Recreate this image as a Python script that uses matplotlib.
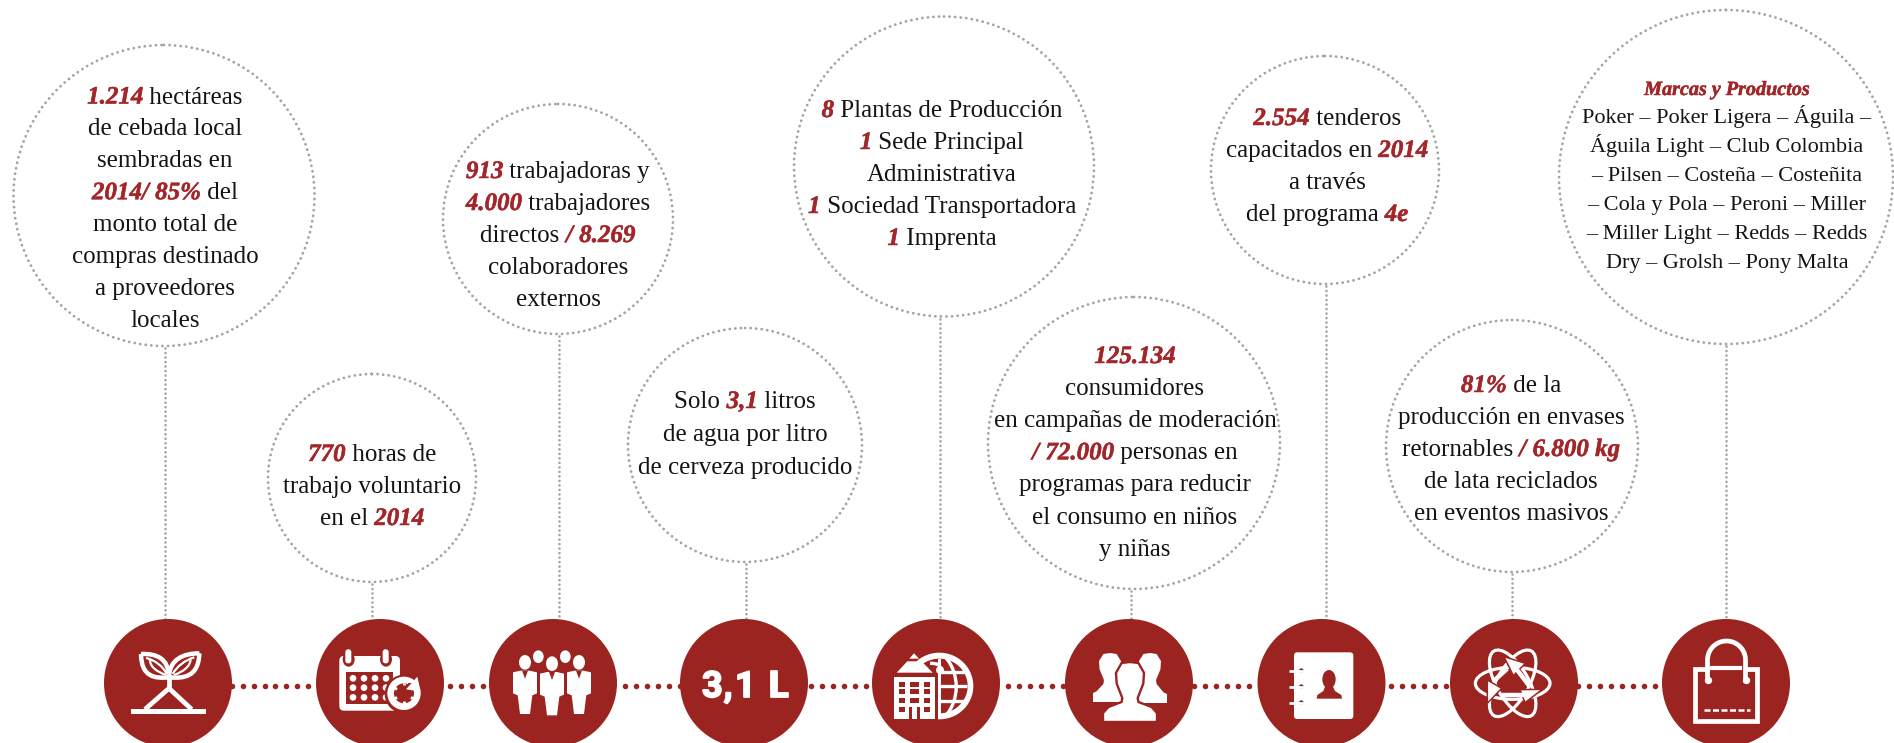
import numpy as np
import matplotlib
matplotlib.use("Agg")
import matplotlib.pyplot as plt
import matplotlib.patheffects as pe
from matplotlib.patches import Circle, Ellipse, Polygon, Rectangle, FancyBboxPatch, PathPatch
from matplotlib.path import Path
from matplotlib.transforms import Affine2D

RED = "#9b2420"
TXTRED = "#a3262a"
INK = "#141414"
GREY = "#a3a3a3"
W = "white"
SERIF = "Liberation Serif"

# ---- content ----
bubble_x = [164, 372, 558, 745, 944, 1134, 1325, 1512, 1726]
bubble_y = [195.5, 478, 219, 445, 166.5, 443, 170, 446, 177]
bubble_r = [150.5, 104, 115, 117, 150, 146, 114, 126, 167]
stem_x = [165, 372, 559, 745.5, 940, 1131, 1326, 1512, 1726]
node_x = [168, 380, 553, 744, 936, 1129, 1321.5, 1514, 1726]
text_x = [165, 372, 558, 745, 942, 1135, 1327, 1511, 1727]
first_baseline = [103.5, 461, 178, 408, 117, 363, 125, 392, 123.5]
line_gap = [31.9, 32, 32, 33, 32, 32.1, 32, 32, 28.9]

R = "r"
N = "n"
texts = [
    [[("1.214", R), (" hectáreas", N)], [("de cebada local", N)], [("sembradas en", N)],
     [("2014/ 85%", R), (" del", N)], [("monto total de", N)], [("compras destinado", N)],
     [("a proveedores", N)], [("locales", N)]],
    [[("770", R), (" horas de", N)], [("trabajo voluntario", N)], [("en el ", N), ("2014", R)]],
    [[("913", R), (" trabajadoras y", N)], [("4.000", R), (" trabajadores", N)],
     [("directos ", N), ("/ 8.269", R)], [("colaboradores", N)], [("externos", N)]],
    [[("Solo ", N), ("3,1", R), (" litros", N)], [("de agua por litro", N)], [("de cerveza producido", N)]],
    [[("8", R), (" Plantas de Producción", N)], [("1", R), (" Sede Principal", N)],
     [("Administrativa", N)], [("1", R), (" Sociedad Transportadora", N)], [("1", R), (" Imprenta", N)]],
    [[("125.134", R)], [("consumidores", N)], [("en campañas de moderación", N)],
     [("/ 72.000", R), (" personas en", N)], [("programas para reducir", N)],
     [("el consumo en niños", N)], [("y niñas", N)]],
    [[("2.554", R), (" tenderos", N)], [("capacitados en ", N), ("2014", R)], [("a través", N)],
     [("del programa ", N), ("4e", R)]],
    [[("81%", R), (" de la", N)], [("producción en envases", N)], [("retornables ", N), ("/ 6.800 kg", R)],
     [("de lata reciclados", N)], [("en eventos masivos", N)]],
    [[("Poker – Poker Ligera – Águila –", N)], [("Águila Light – Club Colombia", N)],
     [("– Pilsen – Costeña – Costeñita", N)], [("– Cola y Pola – Peroni – Miller", N)],
     [("– Miller Light – Redds – Redds", N)], [("Dry – Grolsh – Pony Malta", N)]],
]
brand_title = "Marcas y Productos"
dot_runs = [(232, 308), (450, 483), (625, 680), (811, 866), (1008, 1063), (1194, 1249), (1391, 1446), (1578, 1655)]

# ---- canvas: one data unit is one pixel ----
fig = plt.figure(figsize=(18.94, 7.43), dpi=100, facecolor="white")
ax = fig.add_axes([0, 0, 1, 1])
ax.set_xlim(0, 1894)
ax.set_ylim(743, 0)
ax.axis("off")
renderer = fig.canvas.get_renderer()


def style(kind, size):
    if kind == R:
        return dict(family=SERIF, fontsize=size, color=TXTRED, fontweight="bold", fontstyle="italic")
    return dict(family=SERIF, fontsize=size, color=INK)


def adv(s, kind, size):
    """Advance width, spaces included."""
    a = ax.text(0, 0, s + "|", **style(kind, size))
    b = ax.text(0, 0, "|", **style(kind, size))
    w = a.get_window_extent(renderer).width - b.get_window_extent(renderer).width
    a.remove()
    b.remove()
    return w


def draw_line(cx, y, runs, size):
    widths = [adv(s, k, size) for s, k in runs]
    x = cx - sum(widths) / 2
    for (s, k), w in zip(runs, widths):
        tx = ax.text(x, y, s, ha="left", va="baseline", **style(k, size))
        if k == R:
            tx.set_path_effects([pe.withStroke(linewidth=0.35, foreground=TXTRED)])
        x += w


# ---- bubbles, stems, nodes, connecting dots ----
for bx, by, br, sx in zip(bubble_x, bubble_y, bubble_r, stem_x):
    ax.add_patch(Circle((bx, by), br, fc="none", ec=GREY, lw=2.05,
                        linestyle=(0, (0.01, 1.95)), capstyle="round", zorder=1))
    ax.plot([sx, sx], [by + br + 2, 620], color=GREY, lw=1.9,
            linestyle=(0, (0.01, 1.7)), dash_capstyle="round", zorder=1)

for a, b in dot_runs:
    xs = np.linspace(a, b, int(round((b - a) / 11)) + 1)
    ax.scatter(xs, np.full_like(xs, 686.0), s=16, color=RED, linewidths=0, zorder=2)

for nx in node_x:
    ax.add_patch(Circle((nx, 683), 64, fc=RED, ec="none", zorder=3))


# ---- icon helpers: coordinates in 3x zoom units from an origin ----
def T(ox, oy=620):
    return Affine2D().scale(1 / 3).translate(ox, oy) + ax.transData


def poly(t, pts, fc=W, z=4, ec="none", lw=0):
    ax.add_patch(Polygon(pts, closed=True, fc=fc, ec=ec, lw=lw, transform=t, zorder=z))


def rect(t, x0, y0, x1, y1, fc=W, z=4):
    ax.add_patch(Rectangle((x0, y0), x1 - x0, y1 - y0, fc=fc, ec="none", transform=t, zorder=z))


def ell(t, x, y, rx, ry, fc=W, z=4, ang=0, ec="none", lw=0):
    ax.add_patch(Ellipse((x, y), 2 * rx, 2 * ry, angle=ang, fc=fc, ec=ec, lw=lw, transform=t, zorder=z))


def line(t, xs, ys, lw=2.6, c=W, z=4, cap="butt"):
    ax.plot(xs, ys, color=c, lw=lw, transform=t, zorder=z, solid_capstyle=cap)


def bez(t, verts, fc="none", ec=W, lw=2.6, z=4):
    codes = [Path.MOVETO] + [Path.CURVE4] * (len(verts) - 1)
    ax.add_patch(PathPatch(Path(verts, codes), fc=fc, ec=ec, lw=lw, transform=t, zorder=z))


def rrect(t, x0, y0, x1, y1, rad, fc=W, z=4):
    ax.add_patch(FancyBboxPatch((x0 + rad, y0 + rad), x1 - x0 - 2 * rad, y1 - y0 - 2 * rad,
                                boxstyle=f"round,pad={rad}", fc=fc, ec="none", transform=t, zorder=z))


# 1 plant
t = T(100)
rect(t, 93, 267, 318, 283)
line(t, [207, 135], [205, 268], lw=3.4)
line(t, [207, 275], [205, 268], lw=3.4)
line(t, [207, 207], [172, 208], lw=3.4)
bez(t, [(123, 102), (170, 100), (206, 115), (207, 172), (165, 176), (124, 172), (123, 102)], lw=3.2)
bez(t, [(298, 100), (250, 100), (208, 118), (207, 172), (250, 176), (296, 172), (298, 100)], lw=3.2)
bez(t, [(138, 114), (165, 120), (190, 140), (200, 162)], lw=1.6)
bez(t, [(150, 120), (150, 140), (170, 155), (198, 165)], lw=1.6)
bez(t, [(283, 112), (255, 120), (230, 140), (218, 162)], lw=1.6)
bez(t, [(272, 118), (270, 140), (250, 155), (222, 165)], lw=1.6)

# 2 calendar
t = T(100)
rrect(t, 718, 108, 900, 272, 14)
rect(t, 738, 155, 880, 252, fc=RED)
for cx_ in (745, 857):
    ell(t, cx_ + 1, 118, 18, 22, fc=RED)
    rrect(t, cx_ - 9, 88, cx_ + 9, 130, 8)
for yy in (175, 203, 232):
    for xx in (759, 792, 825, 858):
        ell(t, xx, yy, 10, 10)
ell(t, 912, 222, 58, 58, fc=RED)
ell(t, 912, 220, 50, 50)
ell(t, 912, 220, 30, 30, fc=RED)
rect(t, 925, 190, 975, 208, fc=RED)
poly(t, [(952, 170), (962, 214), (918, 208)])
for a_ in np.deg2rad([30, 90, 150, 210, 270, 330]):
    line(t, [912 + 24 * np.cos(a_), 912 + 32 * np.cos(a_)], [220 + 24 * np.sin(a_), 220 + 32 * np.sin(a_)], lw=2)

# 3 people
t = T(100)
for hx in (1315, 1396):
    ell(t, hx, 110, 16, 19)
for px, dy in ((1275, 0), (1356, 4), (1437, 0)):
    ell(t, px, 127 + dy, 18, 22)
    poly(t, [(px - 36, 157 + dy), (px - 14, 152 + dy), (px + 14, 152 + dy), (px + 36, 157 + dy),
             (px + 36, 220 + dy), (px + 22, 226 + dy), (px + 15, 282 + dy), (px - 15, 282 + dy),
             (px - 22, 226 + dy), (px - 36, 220 + dy)])
    poly(t, [(px - 9, 152 + dy), (px, 176 + dy), (px + 9, 152 + dy)], fc=RED)

# 4 "3,1 L"
for ch, zx in (("3", 246), (",", 311), ("1", 345), ("L", 447)):
    tx = ax.text(620 + zx / 3, 697, ch, family="Roboto", fontweight="bold", fontsize=26, color=W,
                 ha="left", va="baseline", zorder=4)
    tx.set_path_effects([pe.withStroke(linewidth=1.3, foreground=W)])

# 5 building and globe
t = T(620)
theta = np.deg2rad(np.linspace(-132, 92, 80))
outer = np.c_[958 + 102 * np.cos(theta), 198 + 100 * np.sin(theta)]
inner = np.c_[958 + 85 * np.cos(theta[::-1]), 198 + 82 * np.sin(theta[::-1])]
poly(t, np.vstack([outer, inner]))
rect(t, 954, 116, 964, 297)
line(t, [960, 1040], [155, 155], lw=2.4)
line(t, [960, 1040], [198, 198], lw=2.4)
line(t, [960, 1040], [243, 243], lw=2.4)
bez(t, [(975, 110), (1020, 160), (1020, 240), (975, 290)], lw=2.4)
bez(t, [(930, 130), (955, 130), (960, 135), (962, 150)], lw=2.4)
ell(t, 960, 150, 12, 12)
poly(t, [(868, 116), (882, 100), (897, 116)])
poly(t, [(830, 158), (862, 124), (905, 124), (938, 158)])
rect(t, 822, 170, 945, 297)
for y0, y1 in ((185, 200), (208, 222), (235, 250)):
    for x0, x1 in ((838, 855), (870, 897), (913, 930)):
        rect(t, x0, y0, x1, y1, fc=RED)
for x0, x1 in ((838, 855), (913, 930)):
    rect(t, x0, 262, x1, 277, fc=RED)
for x0, x1 in ((866, 876), (890, 900)):
    rect(t, x0, 262, x1, 297, fc=RED)


# 6 three busts (full pixels)
def bust(cx, top, hw, neck_y, sh_w, bottom, z, outline=False):
    lw = 1.7 if outline else 0
    ec = RED if outline else "none"
    h = neck_y - top
    half = [(0, top), (hw * 0.6, top + 1), (hw, top + h * 0.3), (hw * 0.95, top + h * 0.6),
            (hw * 0.55, neck_y), (hw * 0.6, neck_y + 4), (sh_w * 0.8, bottom - 12 * (sh_w / 27) - 3),
            (sh_w, bottom - 9), (sh_w, bottom)]
    pts = [(cx + a, b) for a, b in half] + [(cx - a, b) for a, b in half[::-1]]
    ax.add_patch(Polygon(pts, closed=True, fc=W, ec=ec, lw=lw, zorder=z, joinstyle="round"))


bust(1110, 653, 11, 680, 17, 702, 4)
bust(1150, 653, 11, 680, 17, 703, 4)
bust(1130, 662, 14, 698, 27, 722, 5, outline=True)

# 7 notebook
t = T(1140)
rrect(t, 462, 97, 640, 297, 10)
for yy in (152, 200, 248):
    ell(t, 485, yy, 13, 11, fc="none", ec=W, lw=1.6)
    ell(t, 484, yy, 7, 7, fc=RED, z=5)
    line(t, [447, 492], [yy, yy - 0], lw=2.0, z=6)
ell(t, 567, 178, 20, 28, fc=RED)
poly(t, [(530, 236), (532, 225), (550, 213), (555, 200), (579, 200), (585, 213), (604, 225), (606, 236)], fc=RED)

# 8 atom and recycling arrows
t = T(1140)
for ang in (0, 60, 120):
    ell(t, 1118, 190, 112, 48, fc="none", ec=W, lw=2.3, ang=ang)
poly(t, [(1092, 110), (1156, 130), (1120, 167)], z=5, ec=RED, lw=1.1)
poly(t, [(1042, 180), (1085, 205), (1042, 250)], z=5, ec=RED, lw=1.1)
poly(t, [(1207, 208), (1140, 209), (1155, 248)], z=5, ec=RED, lw=1.1)
line(t, [1120, 1168], [135, 198], lw=3.2, z=5)
line(t, [1062, 1102], [182, 146], lw=3.2, z=5)
line(t, [1085, 1170], [226, 226], lw=3.2, z=5)
ell(t, 1118, 190, 26, 26, fc=RED, z=4)

# 9 bag (full pixels)
ax.plot([1707, 1695, 1695, 1757, 1757, 1746], [669, 669, 721, 721, 669, 669], color=W, lw=3.4,
        solid_joinstyle="miter", zorder=4)
phi = np.deg2rad(np.linspace(180, 360, 40))
hx = np.r_[1707.5, 1726.5 + 19 * np.cos(phi), 1745.5]
hy = np.r_[680, 660 + 19 * np.sin(phi), 680]
ax.plot(hx, hy, color=W, lw=3.4, zorder=4)
ax.scatter([1707.5, 1745.5], [680, 680], s=28, color=W, linewidths=0, zorder=4)
ax.plot([1712, 1740], [668, 668], color=W, lw=3.0, zorder=4)
ax.plot([1704, 1750], [709.5, 709.5], color=W, lw=1.8, linestyle=(0, (2.4, 1.0)), zorder=4)

# ---- text ----
body_size = [18, 18, 18, 18, 18, 18, 18, 18, 16]
for lines, cx, y0, gap, size in zip(texts, text_x, first_baseline, line_gap, body_size):
    for i, runs in enumerate(lines):
        draw_line(cx, y0 + i * gap, runs, size)
draw_line(text_x[-1], 95, [(brand_title, R)], 14.5)

fig.savefig("out.png", dpi=100, facecolor="white")
